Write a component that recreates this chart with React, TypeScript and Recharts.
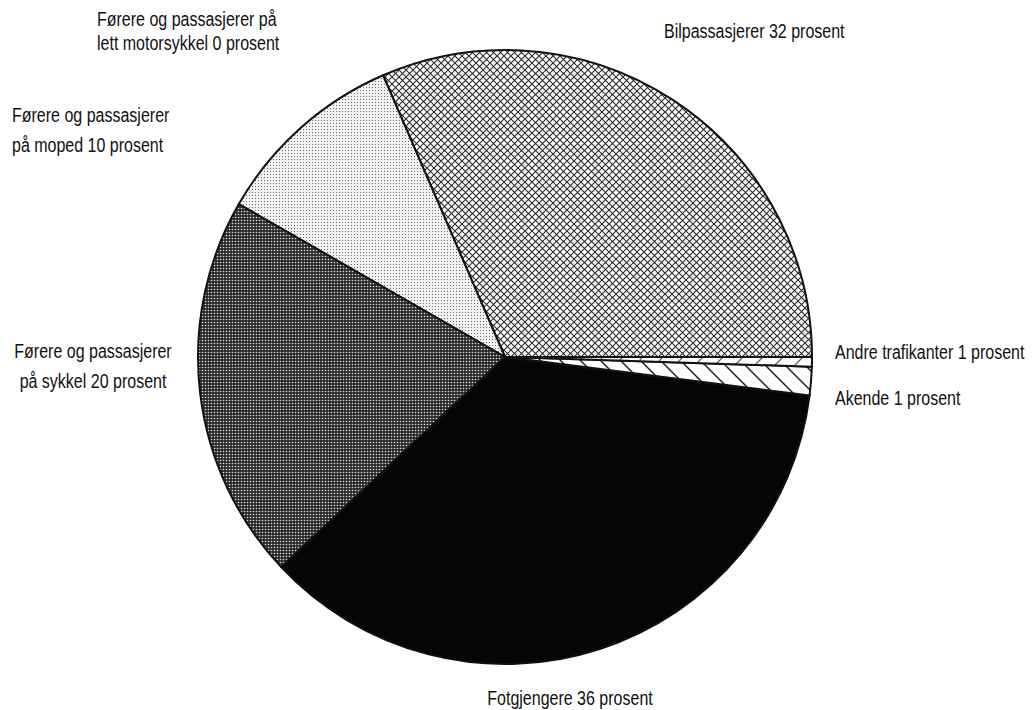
import { Cell, Pie, PieChart } from "recharts";

// slice values in prosent, counter-clockwise from 3 o'clock
const NAMES = [
  "Bilpassasjerer",
  "Lett motorsykkel",
  "Moped",
  "Sykkel",
  "Fotgjengere",
  "Akende",
  "Andre trafikanter"
];
const VALUES = [31.5, 0, 10.2, 20.3, 36, 1.5, 0.5];

const LABEL_LINES: string[][] = [
  ["Bilpassasjerer 32 prosent"],
  ["Førere og passasjerer på", "lett motorsykkel 0 prosent"],
  ["Førere og passasjerer", "på moped 10 prosent"],
  ["Førere og passasjerer", "på sykkel 20 prosent"],
  ["Fotgjengere 36 prosent"],
  ["Akende 1 prosent"],
  ["Andre trafikanter 1 prosent"]
];

const FILLS = [
  "url(#cross)",
  "url(#dots)",
  "url(#dots)",
  "url(#darkdots)",
  "#050505",
  "url(#hatchBack)",
  "url(#hatchFwd)"
];

// label placement: [x, baseline y, anchor, line gap]
const LABEL_POS: [number, number, "start" | "middle", number][] = [
  [664, 38, "start", 0],
  [97, 26, "start", 24],
  [12, 122, "start", 30],
  [93, 358, "middle", 30],
  [570, 705, "middle", 0],
  [835, 405, "start", 0],
  [835, 359, "start", 0]
];

const data = NAMES.map((name, i) => ({ name, value: VALUES[i] }));

const FONT = '"Liberation Sans", Arial, sans-serif';

function renderLabel(props: any) {
  const { index } = props;
  const [x, y, anchor, gap] = LABEL_POS[index];
  return (
    <g key={`label-${index}`} transform={`translate(${x},${y}) scale(0.8,1)`}>
      {LABEL_LINES[index].map((line, j) => (
        <text
          key={j}
          x={0}
          y={j * gap}
          textAnchor={anchor}
          fontFamily={FONT}
          fontSize={20}
          fill="#111"
        >
          {line}
        </text>
      ))}
    </g>
  );
}

export default function App() {
  return (
    <div style={{ position: "absolute", left: 0, top: 0, width: 1034, height: 710, background: "#fff" }}>
      <PieChart width={1034} height={710} margin={{ top: 0, right: 0, bottom: 0, left: 0 }}>
        <defs>
          <pattern id="cross" width={7} height={7} patternUnits="userSpaceOnUse">
            <rect width={7} height={7} fill="#fff" />
            <path d="M0,0 L7,7 M7,0 L0,7" stroke="#2a2a2a" strokeWidth={1.1} />
          </pattern>
          <pattern id="dots" width={3} height={3} patternUnits="userSpaceOnUse">
            <rect width={3} height={3} fill="#f2f2f2" />
            <rect width={1} height={1} fill="#6a6a6a" />
          </pattern>
          <pattern id="darkdots" width={3} height={3} patternUnits="userSpaceOnUse">
            <rect width={3} height={3} fill="#2a2a2a" />
            <circle cx={1.5} cy={1.5} r={0.8} fill="#e0e0e0" />
          </pattern>
          <pattern id="hatchBack" width={20} height={20} patternUnits="userSpaceOnUse">
            <rect width={20} height={20} fill="#fff" />
            <path d="M-5,-5 L25,25 M-5,15 L5,25 M15,-5 L25,5" stroke="#222" strokeWidth={1.5} />
          </pattern>
          <pattern id="hatchFwd" width={20} height={20} patternUnits="userSpaceOnUse">
            <rect width={20} height={20} fill="#fff" />
            <path d="M25,-5 L-5,25 M5,-5 L-5,5 M25,15 L15,25" stroke="#666" strokeWidth={1.3} />
          </pattern>
        </defs>
        <Pie
          data={data}
          dataKey="value"
          nameKey="name"
          cx={505}
          cy={357}
          outerRadius={307}
          startAngle={0}
          endAngle={360}
          stroke="#111"
          strokeWidth={2}
          label={renderLabel}
          labelLine={false}
          isAnimationActive={false}
        >
          {data.map((entry, i) => (
            <Cell key={entry.name} fill={FILLS[i]} />
          ))}
        </Pie>
      </PieChart>
    </div>
  );
}
